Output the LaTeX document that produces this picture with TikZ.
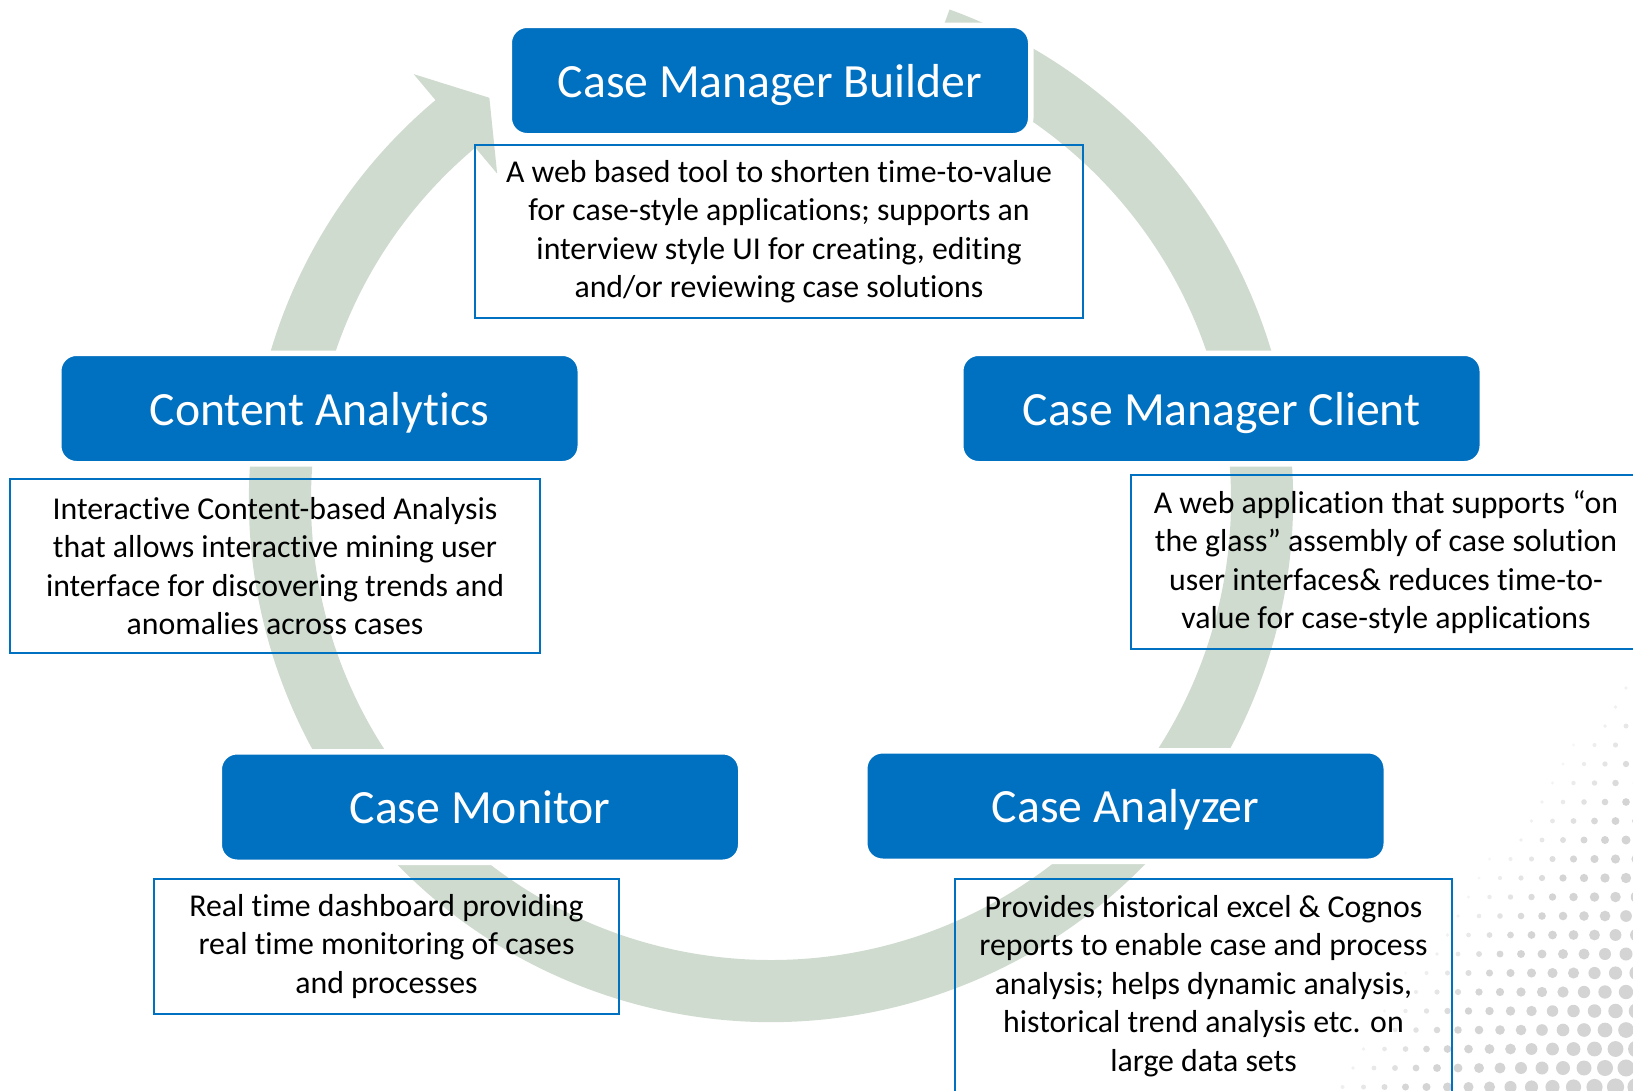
\documentclass[tikz,border=0pt]{standalone}
\usepackage{fontspec}
\setmainfont{Carlito}[Ligatures=NoCommon]
\definecolor{cmblue}{RGB}{0,112,192}
\definecolor{bandc}{RGB}{207,219,207}
\definecolor{dotc}{RGB}{212,212,212}
\tikzset{
  titlebox/.style={fill=cmblue, draw=white, line width=5.5pt, rounded corners=17.75pt,
    minimum width=521.5pt, minimum height=110.5pt, inner sep=0pt,
    text=white, font=\fontsize{47.7}{57}\selectfont, text height=33pt, text depth=0pt},
  descbox/.style={draw=cmblue, line width=2pt, align=center, inner sep=0pt,
    text=black, font=\fontsize{31.8}{38.5}\selectfont},
}
\begin{document}
\begin{tikzpicture}[x=1pt,y=-1pt]
\useasboundingbox (0,0) rectangle (1633,1090);
\clip (0,0) rectangle (1633,1090);
% halftone dots (background decoration)
\foreach \i in {0,...,17}{
  \foreach \j in {0,...,24}{
    \pgfmathsetmacro\px{1290+21*\i+10.5*mod(\j,2)}
    \pgfmathsetmacro\py{650+19*\j}
    \pgfmathsetmacro\dd{(\px-1633)*0.808+(\py-660)*0.588}
    \ifdim\dd pt>0pt
      \pgfmathsetmacro\rr{1.5+0.03*\dd}
      \pgfmathsetmacro\op{min(1,0.2+\dd/90)}
      \fill[dotc, fill opacity=\op] (\px,\py) circle[radius=\rr];
    \fi
  }
}
% circular arrow band
\begin{scope}[shift={(771,500)}]
  \fill[bandc] (-70:522) arc[start angle=-70,end angle=230,radius=522]
    -- (230:556) -- (235:491) -- (230:426) -- (230:460)
    arc[start angle=230,end angle=-70,radius=460] -- cycle;
\end{scope}
% title boxes
\node[titlebox] (builder)  at (770,80.5)    {Case Manager Builder};
\node[titlebox] (content)  at (319.5,408.5) {Content Analytics};
\node[titlebox] (client)   at (1221.5,408.5){Case Manager Client};
\node[titlebox] (monitor)  at (480,807)     {Case Monitor};
\node[titlebox] (analyzer) at (1125.5,806)  {Case Analyzer};
% description boxes
\node[descbox, minimum width=608pt, minimum height=173pt] (builderd) at (779,231.5)
  {A web based tool to shorten time-to-value\\for case-style applications; supports an\\interview style UI for creating, editing\\and/or reviewing case solutions};
\node[descbox, minimum width=530pt, minimum height=174pt] (contentd) at (275,566)
  {Interactive Content-based Analysis\\that allows interactive mining user\\interface for discovering trends and\\anomalies across cases};
\node[descbox, minimum width=510pt, minimum height=174pt] (clientd) at (1386,562)
  {A web application that supports “on\\the glass” assembly of case solution\\user interfaces\& reduces time-to-\\value for case-style applications};
\node[descbox, minimum width=465pt, minimum height=135pt] (monitord) at (386.5,946.5)
  {Real time dashboard providing\\real time monitoring of cases\\and processes};
\node[descbox, minimum width=497pt, minimum height=214pt] (analyzerd) at (1203.5,986)
  {Provides historical excel \& Cognos\\reports to enable case and process\\analysis; helps dynamic analysis,\\historical trend analysis etc. on\\large data sets};
\end{tikzpicture}
\end{document}
